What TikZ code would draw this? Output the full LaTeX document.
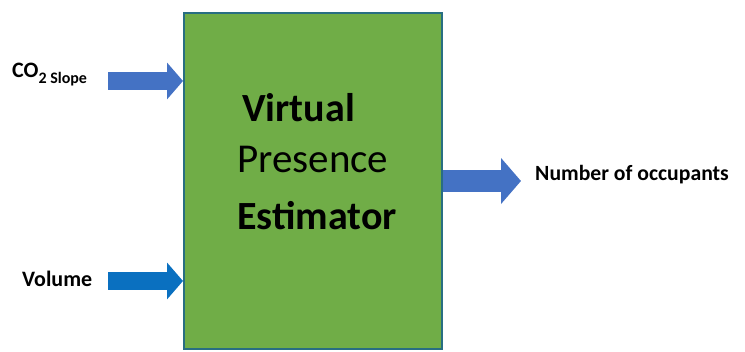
\documentclass[tikz,border=0pt]{standalone}
\usepackage{fontspec}
\setmainfont{Carlito}
\usetikzlibrary{arrows.meta}
\definecolor{boxgreen}{RGB}{112,173,71}
\definecolor{boxedge}{RGB}{40,110,130}
\definecolor{arrowblue}{RGB}{68,114,196}
\definecolor{volblue}{RGB}{10,112,192}
\begin{document}
\begin{tikzpicture}[
    x=1pt, y=1pt,
    estimator/.style={draw=boxedge, fill=boxgreen, line width=2pt, minimum width=258pt, minimum height=336pt, inner sep=0pt},
    sidelabel/.style={font=\fontsize{22}{22}\selectfont\bfseries, anchor=base west, inner sep=0pt},
    boxtext/.style={font=\fontsize{41}{41}\selectfont, anchor=base west, inner sep=0pt},
    boxbold/.style={boxtext, font=\fontsize{40}{40}\selectfont\bfseries},
    blockarrow/.style={line width=18pt, -{Triangle[length=16pt, width=36pt]}}
]
\useasboundingbox (0,0) rectangle (745,352);
\node[estimator] (box) at (313,171) {};
\node[boxbold] (virtual) at (242,230) {Virtual};
\node[boxtext] (presence) at (237,179) {Presence};
\node[boxbold] (estimatortext) at (237,122) {Estimator};
% inputs
\coordinate (co2 in) at (108,271);
\coordinate (volume in) at (108,71);
\draw[blockarrow, arrowblue] (co2 in) -- (co2 in -| box.west);
\draw[blockarrow, volblue] (volume in) -- (volume in -| box.west);
\node[sidelabel] (co2) at (12,274) {CO\raisebox{-0.25em}{\fontsize{16}{16}\selectfont 2 Slope}};
\node[sidelabel] (volume) at (22,65) {Volume};
% output
\coordinate (out end) at (521,171);
\draw[blockarrow, arrowblue, line width=22pt, -{Triangle[length=20pt, width=45pt]}] (box.east) -- (out end);
\node[sidelabel, font=\fontsize{21.7}{22}\selectfont\bfseries] (occupants) at (535,171) {Number of occupants};
\end{tikzpicture}
\end{document}
